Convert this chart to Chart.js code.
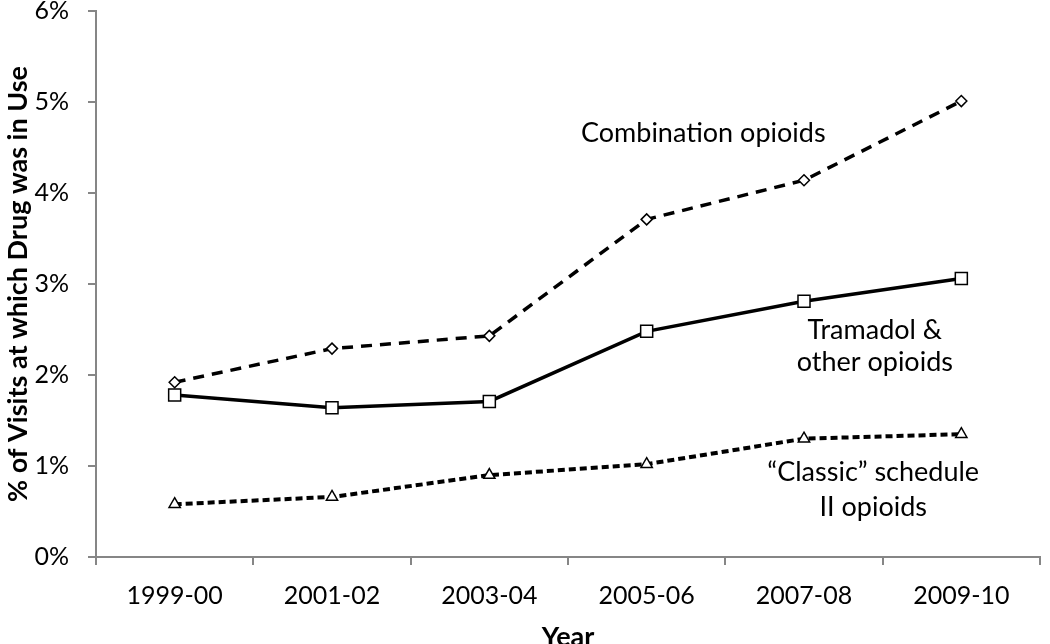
<!DOCTYPE html>
<html>
<head>
<meta charset="utf-8">
<script src="https://cdn.jsdelivr.net/npm/chart.js@4/dist/chart.umd.min.js"></script>
<style>
  html, body { margin: 0; padding: 0; background: #fff; }
  #wrap { width: 1050px; height: 644px; }
</style>
</head>
<body>
<div id="wrap"><canvas id="opioid-chart" width="1050" height="644"></canvas></div>
<script>
// ---------------------------------------------------------------------------------------
// Daten

var years = ["1999-00", "2001-02", "2003-04", "2005-06", "2007-08", "2009-10"];
var combination = [1.92, 2.29, 2.43, 3.71, 4.14, 5.01];
var tramadol = [1.78, 1.64, 1.71, 2.48, 2.81, 3.06];
var classic = [0.58, 0.66, 0.90, 1.02, 1.30, 1.35];

// Beschriftungen im Diagramm: [text, x (Kategorie-Index), y (%)]
var seriesLabels = [
  ["Combination opioids", 3.36, 4.66],
  ["Tramadol &", 4.45, 2.49],
  ["other opioids", 4.45, 2.14],
  ["\u201cClassic\u201d schedule", 4.44, 0.93],
  ["II opioids", 4.44, 0.55]
];

var fontFamily = "Lato, 'Open Sans', sans-serif";
var axisGray = "#868686";

// ---------------------------------------------------------------------------------------
// Plugin fuer die Textbeschriftung

var labelPlugin = {
  id: 'seriesLabels',
  afterDatasetsDraw: function(chart) {
    var ctx = chart.ctx;
    var xs = chart.scales.x;
    var ys = chart.scales.y;
    ctx.save();
    ctx.fillStyle = "#000";
    ctx.font = "27px " + fontFamily;
    ctx.textAlign = "center";
    ctx.textBaseline = "middle";
    seriesLabels.forEach(function(l) {
      ctx.fillText(l[0], xs.getPixelForValue(l[1]), ys.getPixelForValue(l[2]));
    });
    ctx.restore();
  }
};

new Chart(document.getElementById("opioid-chart"), {
  type: 'line',
  data: {
    labels: years,
    datasets: [
      {
        label: "Combination opioids",
        data: combination,
        borderColor: "#000",
        borderWidth: 3.5,
        borderDash: [11, 8],
        pointStyle: 'rectRot',
        pointRadius: 5.5,
        pointBorderWidth: 1.5,
        pointBackgroundColor: "#fff",
        pointBorderColor: "#000",
        tension: 0
      },
      {
        label: "Tramadol & other opioids",
        data: tramadol,
        borderColor: "#000",
        borderWidth: 3.5,
        pointStyle: 'rect',
        pointRadius: 8.5,
        pointBorderWidth: 1.5,
        pointBackgroundColor: "#fff",
        pointBorderColor: "#000",
        tension: 0
      },
      {
        label: "Classic schedule II opioids",
        data: classic,
        borderColor: "#000",
        borderWidth: 4,
        borderDash: [7, 4],
        pointStyle: 'triangle',
        pointRadius: 6.5,
        pointBorderWidth: 1.5,
        pointBackgroundColor: "#fff",
        pointBorderColor: "#000",
        tension: 0
      }
    ]
  },
  options: {
    responsive: false,
    animation: false,
    layout: {padding: {top: 0, right: 1, bottom: 0, left: 0}},
    scales: {
      x: {
        offset: true,
        afterFit: function(scale) { scale.height = 87; },
        grid: {
          display: true,
          offset: true,
          drawOnChartArea: false,
          drawTicks: true,
          tickLength: 8,
          color: axisGray,
          lineWidth: 2
        },
        border: {display: true, color: axisGray, width: 2},
        ticks: {font: {size: 25, family: fontFamily}, color: "#000", padding: 16},
        title: {
          display: true,
          text: "Year",
          font: {size: 27, weight: 'bold', family: fontFamily, lineHeight: 0.5},
          color: "#000",
          padding: {top: 0, bottom: 0}
        }
      },
      y: {
        min: 0,
        max: 6,
        afterFit: function(scale) {
          scale.width = 96;
          scale.paddingTop = 11;
          scale.paddingBottom = 0;
        },
        grid: {
          display: true,
          drawOnChartArea: false,
          drawTicks: true,
          tickLength: 8,
          color: axisGray,
          lineWidth: 2
        },
        border: {display: true, color: axisGray, width: 2},
        ticks: {
          stepSize: 1,
          font: {size: 25, family: fontFamily},
          color: "#000",
          padding: 19,
          callback: function(v) { return v + "%"; }
        },
        title: {
          display: true,
          text: "% of Visits at which Drug was in Use",
          font: {size: 27, weight: 'bold', family: fontFamily, lineHeight: 1.2},
          color: "#000",
          padding: {top: 2, bottom: 0}
        }
      }
    },
    plugins: {
      legend: {display: false},
      tooltip: {enabled: false}
    }
  },
  plugins: [labelPlugin]
});
</script>
</body>
</html>
